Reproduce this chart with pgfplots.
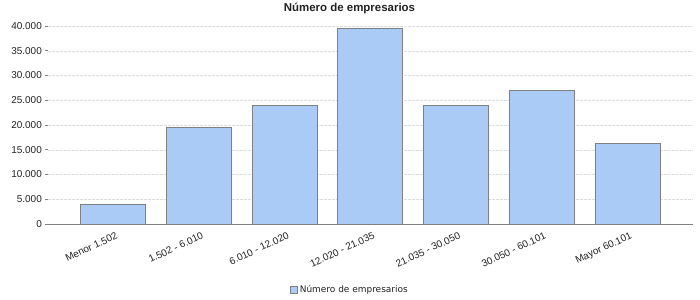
\documentclass[border=0pt]{standalone}
\usepackage{pgfplots}
\pgfplotsset{compat=1.18}
\usepackage{fontspec}
\setmainfont{Liberation Sans}
\newfontfamily\legfont{DejaVu Sans}
\definecolor{barblue}{HTML}{A9CBF5}
\definecolor{baredge}{HTML}{808080}
\definecolor{gridc}{HTML}{DCDCDC}
\definecolor{txt}{HTML}{222222}
\begin{document}
\begin{tikzpicture}
\path[use as bounding box] (-48bp,-76bp) rectangle (652bp,224bp);
\begin{axis}[
  at={(0,0)}, anchor=south west,
  scale only axis,
  width=644.7bp, height=198bp,
  xmin=-0.76, xmax=6.76,
  ymin=0, ymax=40000,
  ytick={0,5000,10000,15000,20000,25000,30000,35000,40000},
  xtick={0,1,2,3,4,5,6},
  xticklabels={Menor 1.502, 1.502 - 6.010, 6.010 - 12.020, 12.020 - 21.035, 21.035 - 30.050, 30.050 - 60.101, Mayor 60.101},
  axis x line*=bottom,
  axis y line*=left,
  x axis line style={draw=baredge, line width=0.8bp, -},
  y axis line style={draw=none},
  tick align=outside,
  major tick length=3bp,
  xtick style={draw=none},
  ytick style={draw=baredge, line width=0.6bp},
  ymajorgrids,
  grid style={gridc, dash pattern=on 2.5bp off 1.5bp, line width=0.5bp},
  /pgf/number format/assume math mode=true,
  /pgf/number format/.cd, 1000 sep={.}, fixed, precision=0, /pgfplots/.cd,
  scaled y ticks=false,
  ticklabel style={font=\fontsize{10}{12}\selectfont, text=txt},
  yticklabel style={anchor=east, inner sep=1bp, xshift=-2bp},
  xticklabel style={rotate=25, anchor=north east, inner sep=1bp, xshift=1bp, yshift=-4bp},
  legend style={at={(0.4684,-0.333)}, anchor=center, draw=none, fill=none,
    font=\legfont\fontsize{9}{11}\selectfont, text=txt, inner sep=0bp},
  legend image code/.code={\draw[fill=barblue, draw=baredge, line width=0.6bp] (-2bp,-3.5bp) rectangle (5bp,3.5bp);},
]
\addplot[ybar, bar width=65bp, fill=barblue, draw=baredge, line width=0.8bp, bar shift=0bp]
  coordinates {(0,3950) (1,19550) (2,24000) (3,39450) (4,24000) (5,27000) (6,16300)};
\addlegendentry{Número de empresarios}
\end{axis}
\node[font=\bfseries\fontsize{11.5}{13}\selectfont, text=txt] at (301.5bp,216bp) {Número de empresarios};
\end{tikzpicture}
\end{document}
